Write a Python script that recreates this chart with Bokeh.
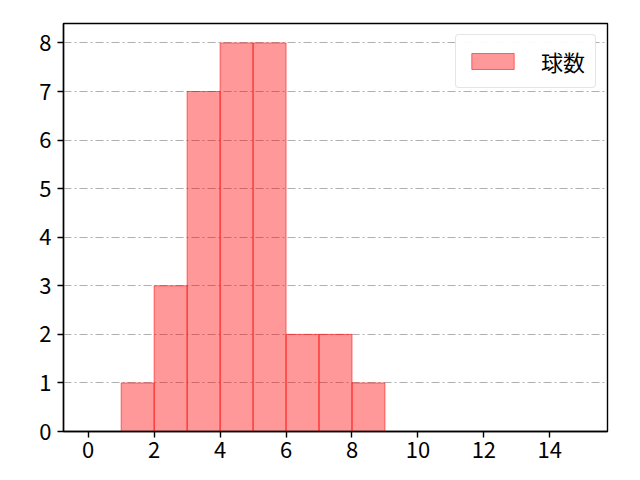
from bokeh.plotting import figure
from bokeh.models import ColumnDataSource, Range1d, FixedTicker, Legend, LegendItem
from bokeh.embed import file_html
from bokeh.resources import INLINE

# data
bin_edges = list(range(0, 16))
counts = [0, 1, 3, 7, 8, 8, 2, 2, 1, 0, 0, 0, 0, 0, 0]
series_label = "球数"
x_ticks = [0, 2, 4, 6, 8, 10, 12, 14]
y_ticks = [0, 1, 2, 3, 4, 5, 6, 7, 8]

FONT = "Noto Sans CJK JP"

left = [bin_edges[i] for i in range(len(counts)) if counts[i] > 0]
right = [bin_edges[i + 1] for i in range(len(counts)) if counts[i] > 0]
top = [c for c in counts if c > 0]
src = ColumnDataSource(dict(left=left, right=right, top=top, bottom=[0] * len(top)))

p = figure(width=632, height=472, output_backend="svg", toolbar_location=None,
           x_range=Range1d(-0.75, 15.75), y_range=Range1d(0, 8.4),
           min_border_left=63, min_border_top=23, min_border_right=25, min_border_bottom=41)

r = p.quad(left="left", right="right", top="top", bottom="bottom", source=src,
           fill_color="red", fill_alpha=0.4, line_color="red", line_alpha=0.55, line_width=1)

p.xgrid.visible = False
p.ygrid.grid_line_color = "#b0b0b0"
p.ygrid.grid_line_dash = "8 3 2 3"
p.ygrid.grid_line_width = 1

p.outline_line_color = "black"
p.outline_line_width = 1.4
p.outline_line_alpha = 1

for ax in (p.xaxis[0], p.yaxis[0]):
    ax.axis_line_color = "black"
    ax.axis_line_width = 1.4
    ax.major_tick_line_color = "black"
    ax.major_tick_line_width = 1.4
    ax.major_tick_out = 6
    ax.major_tick_in = 0
    ax.minor_tick_line_color = None
    ax.major_label_text_font = FONT
    ax.major_label_text_font_size = "22px"
    ax.major_label_text_color = "black"

p.xaxis[0].ticker = FixedTicker(ticks=x_ticks)
p.yaxis[0].ticker = FixedTicker(ticks=y_ticks)
p.xaxis[0].major_label_standoff = 4
p.yaxis[0].major_label_standoff = 6

legend = Legend(items=[LegendItem(label=series_label, renderers=[r])],
                location="top_right")
legend.label_text_font = FONT
legend.label_text_font_size = "22px"
legend.label_text_color = "black"
legend.glyph_width = 53
legend.glyph_height = 20
legend.border_line_color = "#cccccc"
legend.border_line_width = 1
legend.border_radius = 4
legend.margin = 11
legend.padding = 10
legend.label_standoff = 22
legend.spacing = 0
p.add_layout(legend)

open("out.html", "w").write(file_html(p, INLINE))
